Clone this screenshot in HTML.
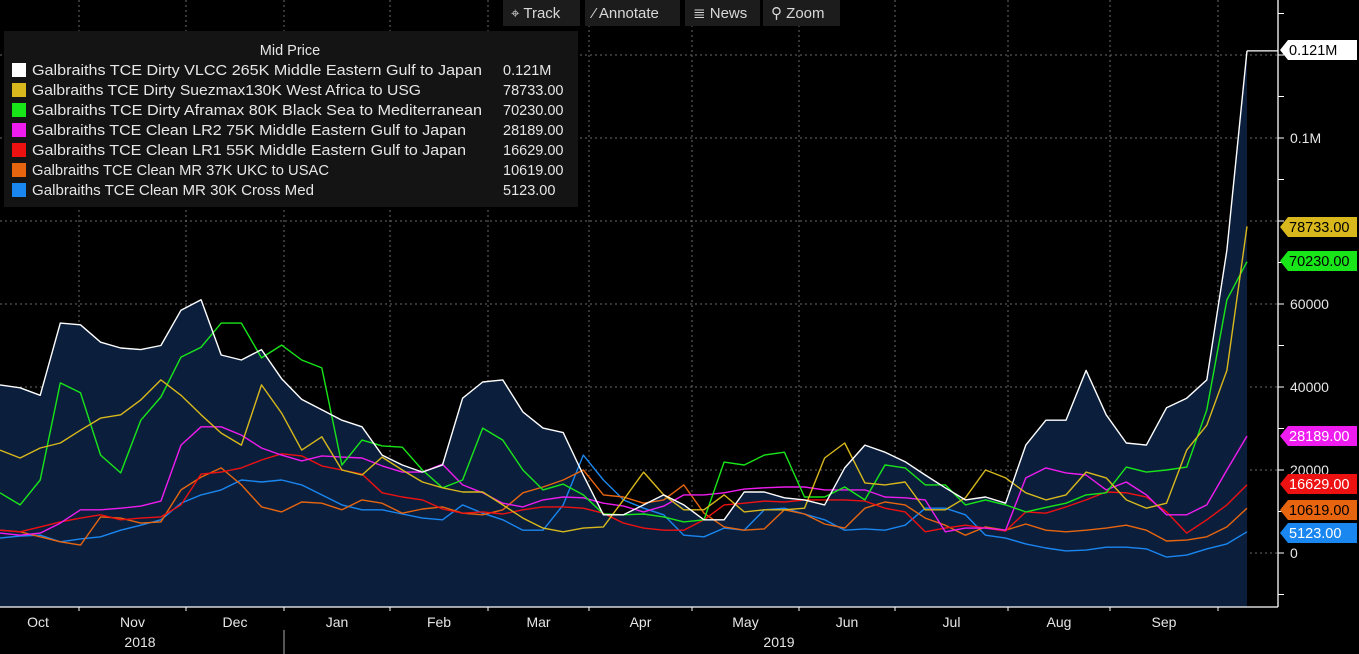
<!DOCTYPE html>
<html><head><meta charset="utf-8"><style>
html,body{margin:0;padding:0;background:#000;width:1359px;height:654px;overflow:hidden}
svg{display:block;font-family:"Liberation Sans",sans-serif}
</style></head><body>
<svg id="chart" width="1359" height="654" viewBox="0 0 1359 654">
<g id="grid"></g>
<g id="area"></g>
<g id="lines"></g>
<g id="axes"></g>
<g id="tags"></g>
<g id="legend"></g>
<g id="toolbar"></g>
</svg>
<script>
// values in thousands, sampled evenly from start (Oct 2018) to end (late Sep 2019)
const vlcc=[40.5,39.8,38,55.4,55,50.8,49.4,49,50,58.5,61,47.7,46.5,49,42,37,34.5,32,30.4,23.6,21.2,19.5,21.2,37.3,41.2,41.7,34,30.1,29,18.8,9.2,9.2,11.6,14,11.6,8,8,14.7,14.7,13.3,12.8,11.6,20.5,26,24.3,22,18.8,15.7,12.8,13.5,12,26,32,32,44,33.3,26.5,26,35,37.3,41.7,73,121];
const suezmax=[24.8,22.9,25.3,26.5,29.6,32.5,33.3,36.9,41.7,38,33.3,28.9,26,40.5,33.7,24.8,28,20,18.8,23.1,20,17.1,15.7,14.7,14.7,11.6,8.4,6,5.1,6,6.3,12.8,19.5,14,10.4,10.4,14,9.9,10.4,10.4,10.8,22.9,26.5,16.9,16.4,17.1,10.4,10.4,13.3,20,18.1,14.5,12.8,14,19.5,18.1,12.8,10.8,12,24.8,30.8,44,78.7];
const aframax=[14.5,11.6,17.6,41,38.6,23.6,19.3,32,37.6,47.2,49.6,55.4,55.4,47,50.1,46.5,44.6,21.2,27.2,25.8,25.5,20,15.7,17.6,30.1,27.2,20,15.2,16.6,14,9.4,9.2,9.4,8.7,7.5,8,21.9,21.2,23.6,24.3,13.5,13.5,15.9,12.8,21.2,20.5,16.4,16.4,11.6,12.8,11.6,9.9,11,12,14,14.5,20.7,19.5,20,20.7,34.5,61,70.2];
const lr2=[4.8,4.3,4.8,7.2,10.4,10.4,10.8,11.3,12.5,26,30.4,30.4,28.4,25.3,23.6,22.2,23.4,23.1,22.9,21,19.5,19.5,21.4,16.4,14.5,12,11.1,12.8,13.5,13.3,12,11.3,9.9,11.3,14,14,14.5,15.4,15.7,15.9,15.9,15.2,15.2,15.2,13.5,13.3,12.8,5.1,6,6,5.5,18.1,20.5,19.3,18.8,15.2,17.1,14,9.2,9.2,11.6,20,28.2];
const lr1=[5.5,5.1,6.3,7.5,8.4,9.2,8,8.4,8.7,11.6,19,19.5,20.5,22.4,23.9,23.4,21,20,19,14.5,13.5,12.8,10.6,9.6,9.9,9.4,10.4,11.1,11.1,10.8,9.6,7.2,6,5.5,5.5,8,11.6,12,12.5,12.3,12.8,12.8,12.8,12.5,10.8,9.9,5.1,6,6.7,6,5.3,9.9,9.6,11.1,12.8,14.7,14.5,13.5,9.9,4.8,8,11.6,16.4];
const mr37=[5.5,5.1,3.9,2.7,1.9,8.7,8.4,7.2,7.5,15.2,18.3,20.5,16.4,11.1,9.9,12.3,12,10.4,12.8,12,9.6,10.6,11.1,9.6,9.2,10.4,14.5,15.9,17.6,20,14,13.5,12,12.8,16.4,9.6,6.3,5.5,5.8,10.4,9.4,7,6,10.8,12.3,11.6,8.4,6.7,4.3,6.3,5.5,7,5.5,5.1,5.5,6,6.7,5.5,2.9,3.1,3.9,6.3,10.8];
const mr30=[3.6,4.1,4.3,2.7,3.4,3.9,5.5,6.7,8,12,14,15.2,17.6,17.1,17.6,16.4,14,11.6,10.4,10.4,9.4,8.4,8,11.6,9.6,8,5.5,5.5,11.6,23.6,17.6,12.8,10.8,9.2,4.3,3.9,6,5.5,10.4,10.8,9.4,8,5.5,5.8,5.5,6.7,10.8,10.8,9.2,4.3,3.6,2.2,1.2,0.5,0.7,1.4,1.4,1,-1,-0.5,1,2.2,5.1];
const seriesNames=["Galbraiths TCE Dirty VLCC 265K Middle Eastern Gulf to Japan","Galbraiths TCE Dirty Suezmax130K West Africa to USG","Galbraiths TCE Dirty Aframax 80K Black Sea to Mediterranean","Galbraiths TCE Clean LR2 75K Middle Eastern Gulf to Japan","Galbraiths TCE Clean LR1 55K Middle Eastern Gulf to Japan","Galbraiths TCE Clean MR 37K UKC to USAC","Galbraiths TCE Clean MR 30K Cross Med"];
const lastLabels=["0.121M","78733.00","70230.00","28189.00","16629.00","10619.00","5123.00"];
const yTickValues=[0,20,40,60,100];
const yTickLabels=["0","20000","40000","60000","0.1M"];
const monthLabels=["Oct","Nov","Dec","Jan","Feb","Mar","Apr","May","Jun","Jul","Aug","Sep"];
const monthBounds=[0,79,186,284,390,488,589,692,799,895,1008,1110,1218];

const colors=["#ffffff","#d8b81c","#19e619","#ee1cee","#ee1111","#e8650f","#1a86f0"];
const allSeries=[vlcc,suezmax,aframax,lr2,lr1,mr37,mr30];
const segNames=["vlcc-line","suezmax-line","aframax-line","lr2-line","lr1-line","mr37-line","mr30-line"];
const NS="http://www.w3.org/2000/svg";
const X_END=1247, AXIS_X=1278, BOTTOM=607;
function xs(i,n){return i*X_END/(n-1);}
function ys(v){return 553-v*4.15;}
function mk(tag,attrs,parent){const e=document.createElementNS(NS,tag);for(const k in attrs)e.setAttribute(k,attrs[k]);parent.appendChild(e);return e;}

const grid=document.getElementById('grid');
for(let v=-20;v<=120;v+=20){
  const y=ys(v); if(y<0||y>BOTTOM) continue;
  const l=mk('line',{x1:0,x2:AXIS_X,y1:y,y2:y,stroke:'#6a6a6a','stroke-width':1,'stroke-dasharray':'2,3'},grid);
  
  
}
for(let i=1;i<monthBounds.length;i++){
  const x=monthBounds[i];
  const l=mk('line',{x1:x,x2:x,y1:0,y2:BOTTOM,stroke:'#6a6a6a','stroke-width':1,'stroke-dasharray':'2,3'},grid);
  
  
}

// area under VLCC
const area=document.getElementById('area');
let d='M0,'+BOTTOM;
vlcc.forEach((v,i)=>{d+=' L'+xs(i,vlcc.length).toFixed(1)+','+ys(v).toFixed(1);});
d+=' L'+X_END+','+BOTTOM+' Z';
const ap=mk('path',{d:d,fill:'#0b1f3d'},area);



const lines=document.getElementById('lines');
for(let s=allSeries.length-1;s>=0;s--){
  const arr=allSeries[s];
  const pts=arr.map((v,i)=>xs(i,arr.length).toFixed(1)+','+ys(v).toFixed(1)).join(' ');
  const pl=mk('polyline',{points:pts,fill:'none',stroke:colors[s],'stroke-width':1.4,'stroke-linejoin':'round'},lines);
  
  
}
// flat last segment of vlcc to axis
const fl=mk('line',{x1:X_END,x2:AXIS_X,y1:ys(vlcc[vlcc.length-1]),y2:ys(vlcc[vlcc.length-1]),stroke:'#fff','stroke-width':1.2},lines);



// axes
const axes=document.getElementById('axes');
let a=mk('line',{x1:AXIS_X,x2:AXIS_X,y1:0,y2:BOTTOM,stroke:'#fff','stroke-width':1.3},axes);

a=mk('line',{x1:0,x2:AXIS_X,y1:BOTTOM,y2:BOTTOM,stroke:'#fff','stroke-width':1.3},axes);

for(let v=-10;v<=130;v+=10){
  const y=ys(v); if(y<2||y>BOTTOM) continue;
  const t=mk('line',{x1:AXIS_X,x2:AXIS_X+6,y1:y,y2:y,stroke:'#fff','stroke-width':1},axes);
  
}
yTickValues.forEach((v,i)=>{
  const t=mk('text',{x:AXIS_X+12,y:ys(v)+5,fill:'#e6e6e6','font-size':14},axes);
  t.textContent=yTickLabels[i];
  
});
monthBounds.forEach((x,i)=>{
  if(i>0){const t=mk('line',{x1:x,x2:x,y1:BOTTOM,y2:BOTTOM+4,stroke:'#fff'},axes);
  }
  if(i<monthLabels.length){
    const next=i+1<monthBounds.length?monthBounds[i+1]:X_END;
    const cx=i==0?38:(x+next)/2;
    const t=mk('text',{x:cx,y:627,fill:'#e6e6e6','font-size':14,'text-anchor':'middle'},axes);
    t.textContent=monthLabels[i];
    
  }
});
a=mk('line',{x1:284,x2:284,y1:630,y2:654,stroke:'#aaa'},axes);

[["2018",140],["2019",779]].forEach(p=>{
  const t=mk('text',{x:p[1],y:647,fill:'#e6e6e6','font-size':14,'text-anchor':'middle'},axes);
  t.textContent=p[0];
  
});

// last value tags
const tags=document.getElementById('tags');
const tagY=[50,227,261,436,484,510,533];
const tagText=["#000","#000","#000","#fff","#fff","#000","#fff"];
lastLabels.forEach((lab,i)=>{
  const y=tagY[i], x0=AXIS_X+2;
  const p=mk('path',{d:`M${x0},${y} L${x0+8},${y-10} L1357,${y-10} L1357,${y+10} L${x0+8},${y+10} Z`,fill:colors[i]},tags);
  
  const t=mk('text',{x:x0+9,y:y+5,fill:tagText[i],'font-size':14.5},tags);
  t.textContent=lab;
  
});

// legend
const lg=document.getElementById('legend');
let r=mk('rect',{x:4,y:31,width:574,height:176,fill:'#141414'},lg);

let ht=mk('text',{x:290,y:55,fill:'#e6e6e6','font-size':14.5,'text-anchor':'middle'},lg);
ht.textContent='Mid Price';

seriesNames.forEach((nm,i)=>{
  const y=70+i*20;
  const g=mk('g',{},lg);
  
  mk('rect',{x:12,y:y-7,width:14,height:14,fill:colors[i]},g);
  const t=mk('text',{x:32,y:y+5,fill:'#e6e6e6','font-size':14.5,textLength:Math.round(nm.length*7.62),lengthAdjust:'spacingAndGlyphs'},g);
  t.textContent=nm;
  const v=mk('text',{x:503,y:y+5,fill:'#e6e6e6','font-size':14.5},g);
  v.textContent=lastLabels[i];
});

// toolbar
const tb=document.getElementById('toolbar');
[["⌖ Track",503,77],["⁄ Annotate",585,95],["≣ News",685,75],["⚲ Zoom",763,77]].forEach(b=>{
  const g=mk('g',{},tb);
  
  
  mk('rect',{x:b[1],y:0,width:b[2],height:26,fill:'#1c1c1c'},g);
  const t=mk('text',{x:b[1]+8,y:18,fill:'#d8d8d8','font-size':15},g);
  t.textContent=b[0];
});
</script>
</body></html>
